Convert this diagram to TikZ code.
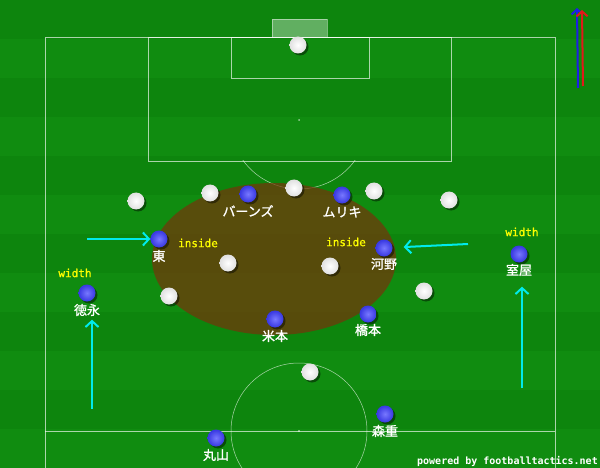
\documentclass[tikz,border=0pt]{standalone}
\usepackage{fontspec}
\newfontfamily\jp[FakeBold=1.2]{Noto Sans CJK JP}
\newfontfamily\mono{DejaVu Sans Mono}
\newfontfamily\monob[FakeBold=0.9]{DejaVu Sans Mono}
\usetikzlibrary{arrows.meta,shadows}
\definecolor{grassA}{RGB}{16,140,16}
\definecolor{grassB}{RGB}{13,133,13}
\definecolor{zone}{RGB}{119,51,11}
\definecolor{blueIn}{RGB}{120,120,255}
\definecolor{blueOut}{RGB}{55,55,225}
\definecolor{arrowc}{RGB}{0,235,235}
\definecolor{yel}{RGB}{255,255,0}
\definecolor{dirblue}{RGB}{30,30,230}
\definecolor{dirred}{RGB}{225,25,25}
\tikzset{
  pitchline/.style={draw=white,draw opacity=0.65,line width=0.7pt},
  pshadow/.style={drop shadow={shadow xshift=2pt,shadow yshift=-2pt,opacity=0.45,fill=black}},
  blueplayer/.style={circle,minimum size=17pt,inner sep=0pt,inner color=blueIn,outer color=blueOut,pshadow},
  whiteplayer/.style={circle,minimum size=17pt,inner sep=0pt,inner color=white,outer color=white!88!black,pshadow},
  pname/.style={text=white,font=\jp\fontsize{13}{13}\selectfont,inner sep=0.5pt},
  note/.style={text=yel,font=\monob\fontsize{11}{11}\selectfont,inner sep=0pt},
  runarrow/.style={draw=arrowc,line width=2pt,-{Straight Barb[length=6pt,width=13pt,line width=2pt]}},
  dirarrow/.style={line width=2pt,-{Straight Barb[length=5pt,width=11pt,line width=2pt]}}
}
\begin{document}
\begin{tikzpicture}[x=1pt,y=-1pt]
\useasboundingbox (0,0) rectangle (600,468);
% grass stripes
\fill[grassA] (0,0) rectangle (600,468);
\foreach \i in {0,2,4,6,8,10}{
  \fill[grassB] (0,{\i*39}) rectangle (600,{(\i+1)*39});
}
% pitch markings
\draw[pitchline] (45,468) -- (45,37) -- (555,37) -- (555,468);
\draw[pitchline] (45,431) -- (555,431);
\draw[pitchline] (148,37) rectangle (451,161);
\draw[pitchline] (231,37) rectangle (369,78);
\fill[white,opacity=0.35] (272,19) rectangle (327,37);
\draw[pitchline,draw opacity=0.45] (272,37) -- (272,19) -- (327,19) -- (327,37);
\fill[white,opacity=0.6] (299,120) circle (1pt);
\fill[white,opacity=0.6] (299,431) circle (1.2pt);
\begin{scope}
  \clip (0,161) rectangle (600,300);
  \draw[pitchline,line width=0.5pt] (299,120) circle (69);
\end{scope}
\draw[pitchline,line width=0.5pt] (299,431) circle (68);
% zone
\fill[zone,opacity=0.7] (274,259) ellipse (122 and 76);
% white players
\node[whiteplayer] (w1) at (298,45) {};
\node[whiteplayer] (w2) at (136,201) {};
\node[whiteplayer] (w3) at (210,193) {};
\node[whiteplayer] (w4) at (294,188) {};
\node[whiteplayer] (w5) at (374,191) {};
\node[whiteplayer] (w6) at (449,200) {};
\node[whiteplayer] (w7) at (228,263) {};
\node[whiteplayer] (w8) at (330,266) {};
\node[whiteplayer] (w9) at (169,296) {};
\node[whiteplayer] (w10) at (424,291) {};
\node[whiteplayer] (w11) at (310,372) {};
% blue players
\node[blueplayer] (barnes) at (248,194) {};
\node[blueplayer] (muriki) at (342,195) {};
\node[blueplayer] (higashi) at (159,239) {};
\node[blueplayer] (kono) at (384,248) {};
\node[blueplayer] (muroya) at (519,254) {};
\node[blueplayer] (tokunaga) at (87,293) {};
\node[blueplayer] (yonemoto) at (275,319) {};
\node[blueplayer] (hashimoto) at (368,314) {};
\node[blueplayer] (morishige) at (385,414) {};
\node[blueplayer] (maruyama) at (216,438) {};
% names
\node[pname] (barnesL) at (248,211) {バーンズ};
\node[pname] (murikiL) at (342,212) {ムリキ};
\node[pname] (higashiL) at (159,256) {東};
\node[pname] (konoL) at (384,264) {河野};
\node[pname] (muroyaL) at (519,270) {室屋};
\node[pname] (tokunagaL) at (87,310) {徳永};
\node[pname] (yonemotoL) at (275,336) {米本};
\node[pname] (hashimotoL) at (368,330) {橋本};
\node[pname] (morishigeL) at (385,431) {森重};
\node[pname] (maruyamaL) at (216,455) {丸山};
% notes
\node[note] (n1) at (75,273) {width};
\node[note] (n2) at (522,232) {width};
\node[note] (n3) at (198,243) {inside};
\node[note] (n4) at (346,242) {inside};
% run arrows
\coordinate (r1) at (87,239);
\coordinate (r2) at (468,244);
\coordinate (r3) at (92,409);
\coordinate (r4) at (522,388);
\draw[runarrow] (r1) -- (higashi);
\draw[runarrow,shorten >=11pt] (r2) -- (kono);
\draw[runarrow,shorten >=3pt] (r3) -- (r3 |- tokunagaL.south);
\draw[runarrow,shorten >=10pt] (r4) -- (r4 |- muroyaL.south);
% direction arrows
\coordinate (b0) at (578,88);
\coordinate (b1) at (577,8);
\coordinate (d0) at (583,86);
\coordinate (d1) at (582,10);
\draw[dirarrow,draw=dirblue] (b0) -- (b1);
\draw[dirarrow,draw=dirred] (d0) -- (d1);
% credit
\node[text=white,font=\mono\bfseries\fontsize{10}{10}\selectfont,anchor=east,inner sep=0pt] (credit) at (598,461) {powered by footballtactics.net};
\end{tikzpicture}
\end{document}
